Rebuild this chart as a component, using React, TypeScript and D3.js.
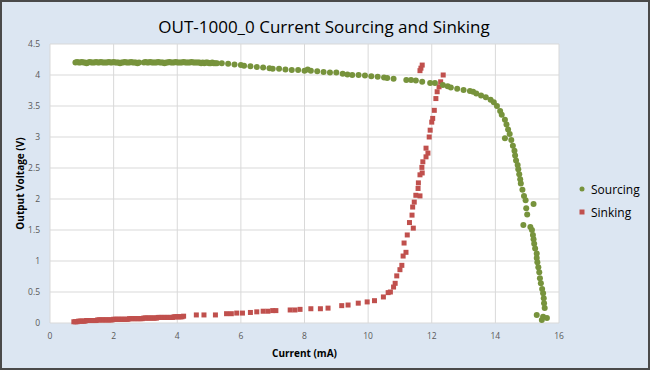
import React from 'react';
import * as d3 from 'd3';

// Sourcing (green circles): current in mA, output voltage in V
const sourcingCurrent = [
  0.8, 0.85, 0.9, 0.95, 1.0, 1.05, 1.1, 1.15, 1.2, 1.25, 1.3, 1.35, 1.4, 1.45, 1.5, 1.55, 1.6, 1.65, 1.7, 1.75,
  1.8, 1.85, 1.9, 1.95, 2.0, 2.05, 2.1, 2.15, 2.2, 2.25, 2.3, 2.35, 2.4, 2.45, 2.5, 2.55, 2.6, 2.65, 2.7, 2.75, 2.8,
  2.95, 3.0, 3.05, 3.1, 3.15, 3.2, 3.25, 3.3, 3.35, 3.4, 3.45, 3.5, 3.55, 3.6, 3.65, 3.7, 3.75, 3.8, 3.85, 3.9,
  3.95, 4.0, 4.05, 4.1, 4.15, 4.2, 4.25, 4.3, 4.35, 4.4, 4.45, 4.5, 4.55, 4.6, 4.65, 4.7, 4.75, 4.8, 4.85, 4.9,
  4.95, 5.0, 5.05, 5.1, 5.15, 5.2, 5.25,
  5.4, 5.6, 5.8, 6.0, 6.1, 6.3, 6.5, 6.7, 6.9, 7.0, 7.2, 7.4, 7.6, 7.8, 8.0, 8.1, 8.2, 8.4, 8.6, 8.8, 9.0, 9.2, 9.35, 9.5,
  9.7, 9.9, 10.1, 10.3, 10.5, 10.6, 10.8, 11.2, 11.35, 11.5, 11.7, 11.95, 12.1, 12.35, 12.5, 12.6, 12.8, 13.0, 13.2, 13.3,
  13.4, 13.55, 13.7, 13.85, 13.95, 14.05, 14.15, 14.2, 14.3, 14.35, 14.4, 14.45, 14.3, 14.5, 14.55, 14.6, 14.62, 14.65,
  14.7, 14.72, 14.75, 14.78, 14.8, 14.85, 14.9, 14.95, 15.2, 14.97, 15.0, 14.88, 15.1, 15.15, 15.18, 15.2, 15.22, 15.25,
  15.3, 15.3, 15.32, 15.35, 15.38, 15.4, 15.43, 15.47, 15.5, 15.52, 15.53, 15.55, 15.3, 15.5, 15.62, 15.46,
];
const sourcingVoltage = [
  4.2, 4.21, 4.2, 4.2, 4.21, 4.2, 4.2, 4.19, 4.2, 4.21, 4.2, 4.2, 4.2, 4.21, 4.2, 4.2, 4.21, 4.2, 4.2, 4.2,
  4.2, 4.21, 4.2, 4.2, 4.21, 4.2, 4.2, 4.2, 4.19, 4.2, 4.2, 4.21, 4.2, 4.2, 4.2, 4.21, 4.2, 4.2, 4.2, 4.19, 4.2,
  4.2, 4.21, 4.2, 4.2, 4.21, 4.2, 4.2, 4.2, 4.2, 4.21, 4.2, 4.2, 4.2, 4.19, 4.2, 4.2, 4.21, 4.2, 4.2, 4.2,
  4.21, 4.2, 4.2, 4.2, 4.2, 4.21, 4.2, 4.2, 4.2, 4.2, 4.21, 4.2, 4.2, 4.2, 4.2, 4.2, 4.19, 4.2, 4.19, 4.2,
  4.2, 4.19, 4.19, 4.2, 4.19, 4.19, 4.19,
  4.19, 4.18, 4.17, 4.16, 4.15, 4.14, 4.13, 4.12, 4.11, 4.1, 4.1, 4.09, 4.08, 4.08, 4.07, 4.09, 4.07, 4.06, 4.05, 4.04, 4.04, 4.02, 4.01, 4.0,
  4.0, 3.99, 3.98, 3.97, 3.96, 3.95, 3.94, 3.92, 3.92, 3.91, 3.89, 3.87, 3.87, 3.84, 3.82, 3.8, 3.78, 3.76, 3.74, 3.73,
  3.7, 3.67, 3.64, 3.6, 3.56, 3.5, 3.42, 3.36, 3.28, 3.2, 3.12, 3.05, 2.98, 2.95, 2.86, 2.78, 2.7, 2.62,
  2.55, 2.48, 2.4, 2.32, 2.25, 2.15, 2.05, 1.98, 1.92, 1.85, 1.75, 1.58, 1.55, 1.5, 1.42, 1.35, 1.28, 1.2,
  1.12, 1.05, 0.98, 0.9, 0.82, 0.72, 0.64, 0.55, 0.48, 0.4, 0.32, 0.24, 0.13, 0.1, 0.08, 0.05,
];

// Sinking (red squares)
const sinkingCurrent = [
  0.75, 0.8, 0.85, 0.9, 0.95, 1.0, 1.05, 1.1, 1.15, 1.2, 1.25, 1.3, 1.35, 1.4, 1.45, 1.5, 1.55, 1.6, 1.65, 1.7,
  1.75, 1.8, 1.85, 1.9, 1.95, 2.0, 2.05, 2.1, 2.15, 2.2, 2.25, 2.3, 2.35, 2.4, 2.45, 2.5, 2.55, 2.6, 2.65, 2.7,
  2.75, 2.8, 2.85, 2.9, 2.95, 3.0, 3.05, 3.1, 3.15, 3.2, 3.25, 3.3, 3.35, 3.4, 3.45, 3.5, 3.55, 3.6, 3.65, 3.7,
  3.75, 3.8, 3.85, 3.9, 3.95, 4.0, 4.05, 4.1, 4.15, 4.2,
  4.6, 4.84, 5.2, 5.55, 5.7, 5.87, 6.05, 6.3, 6.5, 6.7, 6.85, 7.0, 7.1, 7.55, 7.7, 7.86, 8.2, 8.5, 8.74,
  9.17, 9.37, 9.69, 9.97, 10.2, 10.48, 10.63, 10.7, 10.8, 10.85, 10.9, 11.0, 11.06, 11.1, 11.19, 11.13,
  11.23, 11.3, 11.42, 11.38, 11.4, 11.45, 11.5, 11.63, 11.57, 11.58, 11.63, 11.7, 11.69, 11.72, 11.82, 11.88,
  11.82, 11.92, 11.95, 12.0, 12.03, 12.08, 12.13, 12.17, 12.23, 12.28, 12.36, 11.63, 11.66, 11.7,
];
const sinkingVoltage = [
  0.02, 0.02, 0.02, 0.03, 0.03, 0.03, 0.03, 0.03, 0.04, 0.04, 0.04, 0.04, 0.04, 0.04, 0.04, 0.05, 0.05, 0.05, 0.05, 0.05,
  0.05, 0.05, 0.05, 0.05, 0.05, 0.06, 0.06, 0.06, 0.06, 0.06, 0.06, 0.06, 0.06, 0.06, 0.06, 0.07, 0.07, 0.07, 0.07, 0.07,
  0.07, 0.07, 0.07, 0.07, 0.08, 0.08, 0.08, 0.08, 0.08, 0.08, 0.08, 0.08, 0.08, 0.09, 0.09, 0.09, 0.09, 0.09, 0.09, 0.09,
  0.09, 0.09, 0.09, 0.1, 0.1, 0.1, 0.1, 0.1, 0.1, 0.11,
  0.13, 0.13, 0.13, 0.15, 0.15, 0.16, 0.16, 0.17, 0.18, 0.19, 0.19, 0.2, 0.2, 0.21, 0.21, 0.22, 0.23, 0.23, 0.24,
  0.28, 0.29, 0.32, 0.34, 0.36, 0.42, 0.49, 0.5, 0.58, 0.64, 0.76, 0.86, 0.93, 1.08, 1.14, 1.29,
  1.42, 1.62, 1.53, 1.74, 1.87, 1.95, 2.06, 2.05, 2.17, 2.26, 2.39, 2.42, 2.51, 2.6, 2.68, 2.74,
  2.82, 3.0, 3.11, 3.24, 3.3, 3.43, 3.62, 3.73, 3.81, 3.89, 4.0, 4.07, 4.11, 4.16,
];

const xTicks = [0, 2, 4, 6, 8, 10, 12, 14, 16];
const yTicks = [0, 0.5, 1, 1.5, 2, 2.5, 3, 3.5, 4, 4.5];
const seriesNames = ['Sourcing', 'Sinking'];
const seriesColors = ['#77933c', '#c0504d'];

const W = 650;
const H = 370;
const margin = { top: 44, right: 91, bottom: 47, left: 50 };
const font = "'Open Sans', 'Liberation Sans', sans-serif";

export default function App() {
  const x = d3.scaleLinear().domain([0, 16]).range([margin.left, W - margin.right]);
  const y = d3.scaleLinear().domain([0, 4.5]).range([H - margin.bottom, margin.top]);

  const sourcing = sourcingCurrent.map((c, i) => ({ c, v: sourcingVoltage[i] }));
  const sinking = sinkingCurrent.map((c, i) => ({ c, v: sinkingVoltage[i] }));

  return (
    <svg width={W} height={H} style={{ position: 'absolute', left: 0, top: 0 }}>
      <rect x={1} y={1} width={W - 2} height={H - 2} fill="#dce6f2" stroke="#4a4a4a" strokeWidth={2} />
      <text x={324} y={33} textAnchor="middle" fontFamily={font} fontSize={17} fill="#000">
        OUT-1000_0 Current Sourcing and Sinking
      </text>

      {/* plot area */}
      <rect x={x(0)} y={y(4.5)} width={x(16) - x(0)} height={y(0) - y(4.5)} fill="#fff" />
      {xTicks.map(t => (
        <line key={'gx' + t} x1={x(t)} x2={x(t)} y1={y(0)} y2={y(4.5)} stroke="#d9d9d9" strokeWidth={1} />
      ))}
      {yTicks.map(t => (
        <line key={'gy' + t} x1={x(0)} x2={x(16)} y1={y(t)} y2={y(t)} stroke="#d9d9d9" strokeWidth={1} />
      ))}

      {/* tick labels */}
      {xTicks.map(t => (
        <text key={'tx' + t} x={x(t)} y={y(0) + 16} textAnchor="middle" fontFamily={font} fontSize={8.5} fill="#595959">
          {t}
        </text>
      ))}
      {yTicks.map(t => (
        <text key={'ty' + t} x={x(0) - 10} y={y(t) + 3} textAnchor="end" fontFamily={font} fontSize={8.5} fill="#595959">
          {t}
        </text>
      ))}

      {/* axis titles */}
      <text x={(x(0) + x(16)) / 2} y={357} textAnchor="middle" fontFamily={font} fontSize={10} fontWeight="bold" fill="#000">
        Current (mA)
      </text>
      <text transform={`translate(24,${(y(0) + y(4.5)) / 2}) rotate(-90)`} textAnchor="middle" fontFamily={font} fontSize={10} fontWeight="bold" fill="#000">
        Output Voltage (V)
      </text>

      {/* series */}
      {sinking.map((d, i) => (
        <rect key={'k' + i} x={x(d.c) - 2.5} y={y(d.v) - 2.5} width={5} height={5} fill={seriesColors[1]} />
      ))}
      {sourcing.map((d, i) => (
        <circle key={'s' + i} cx={x(d.c)} cy={y(d.v)} r={3} fill={seriesColors[0]} />
      ))}

      {/* legend */}
      {seriesNames.map((name, i) => (
        <g key={name} transform={`translate(582,${189 + i * 23})`}>
          {i === 0 ? (
            <circle cx={0} cy={0} r={2.5} fill={seriesColors[i]} />
          ) : (
            <rect x={-2.5} y={-2.5} width={5} height={5} fill={seriesColors[i]} />
          )}
          <text x={9} y={4.5} fontFamily={font} fontSize={12} fill="#000">
            {name}
          </text>
        </g>
      ))}
    </svg>
  );
}
